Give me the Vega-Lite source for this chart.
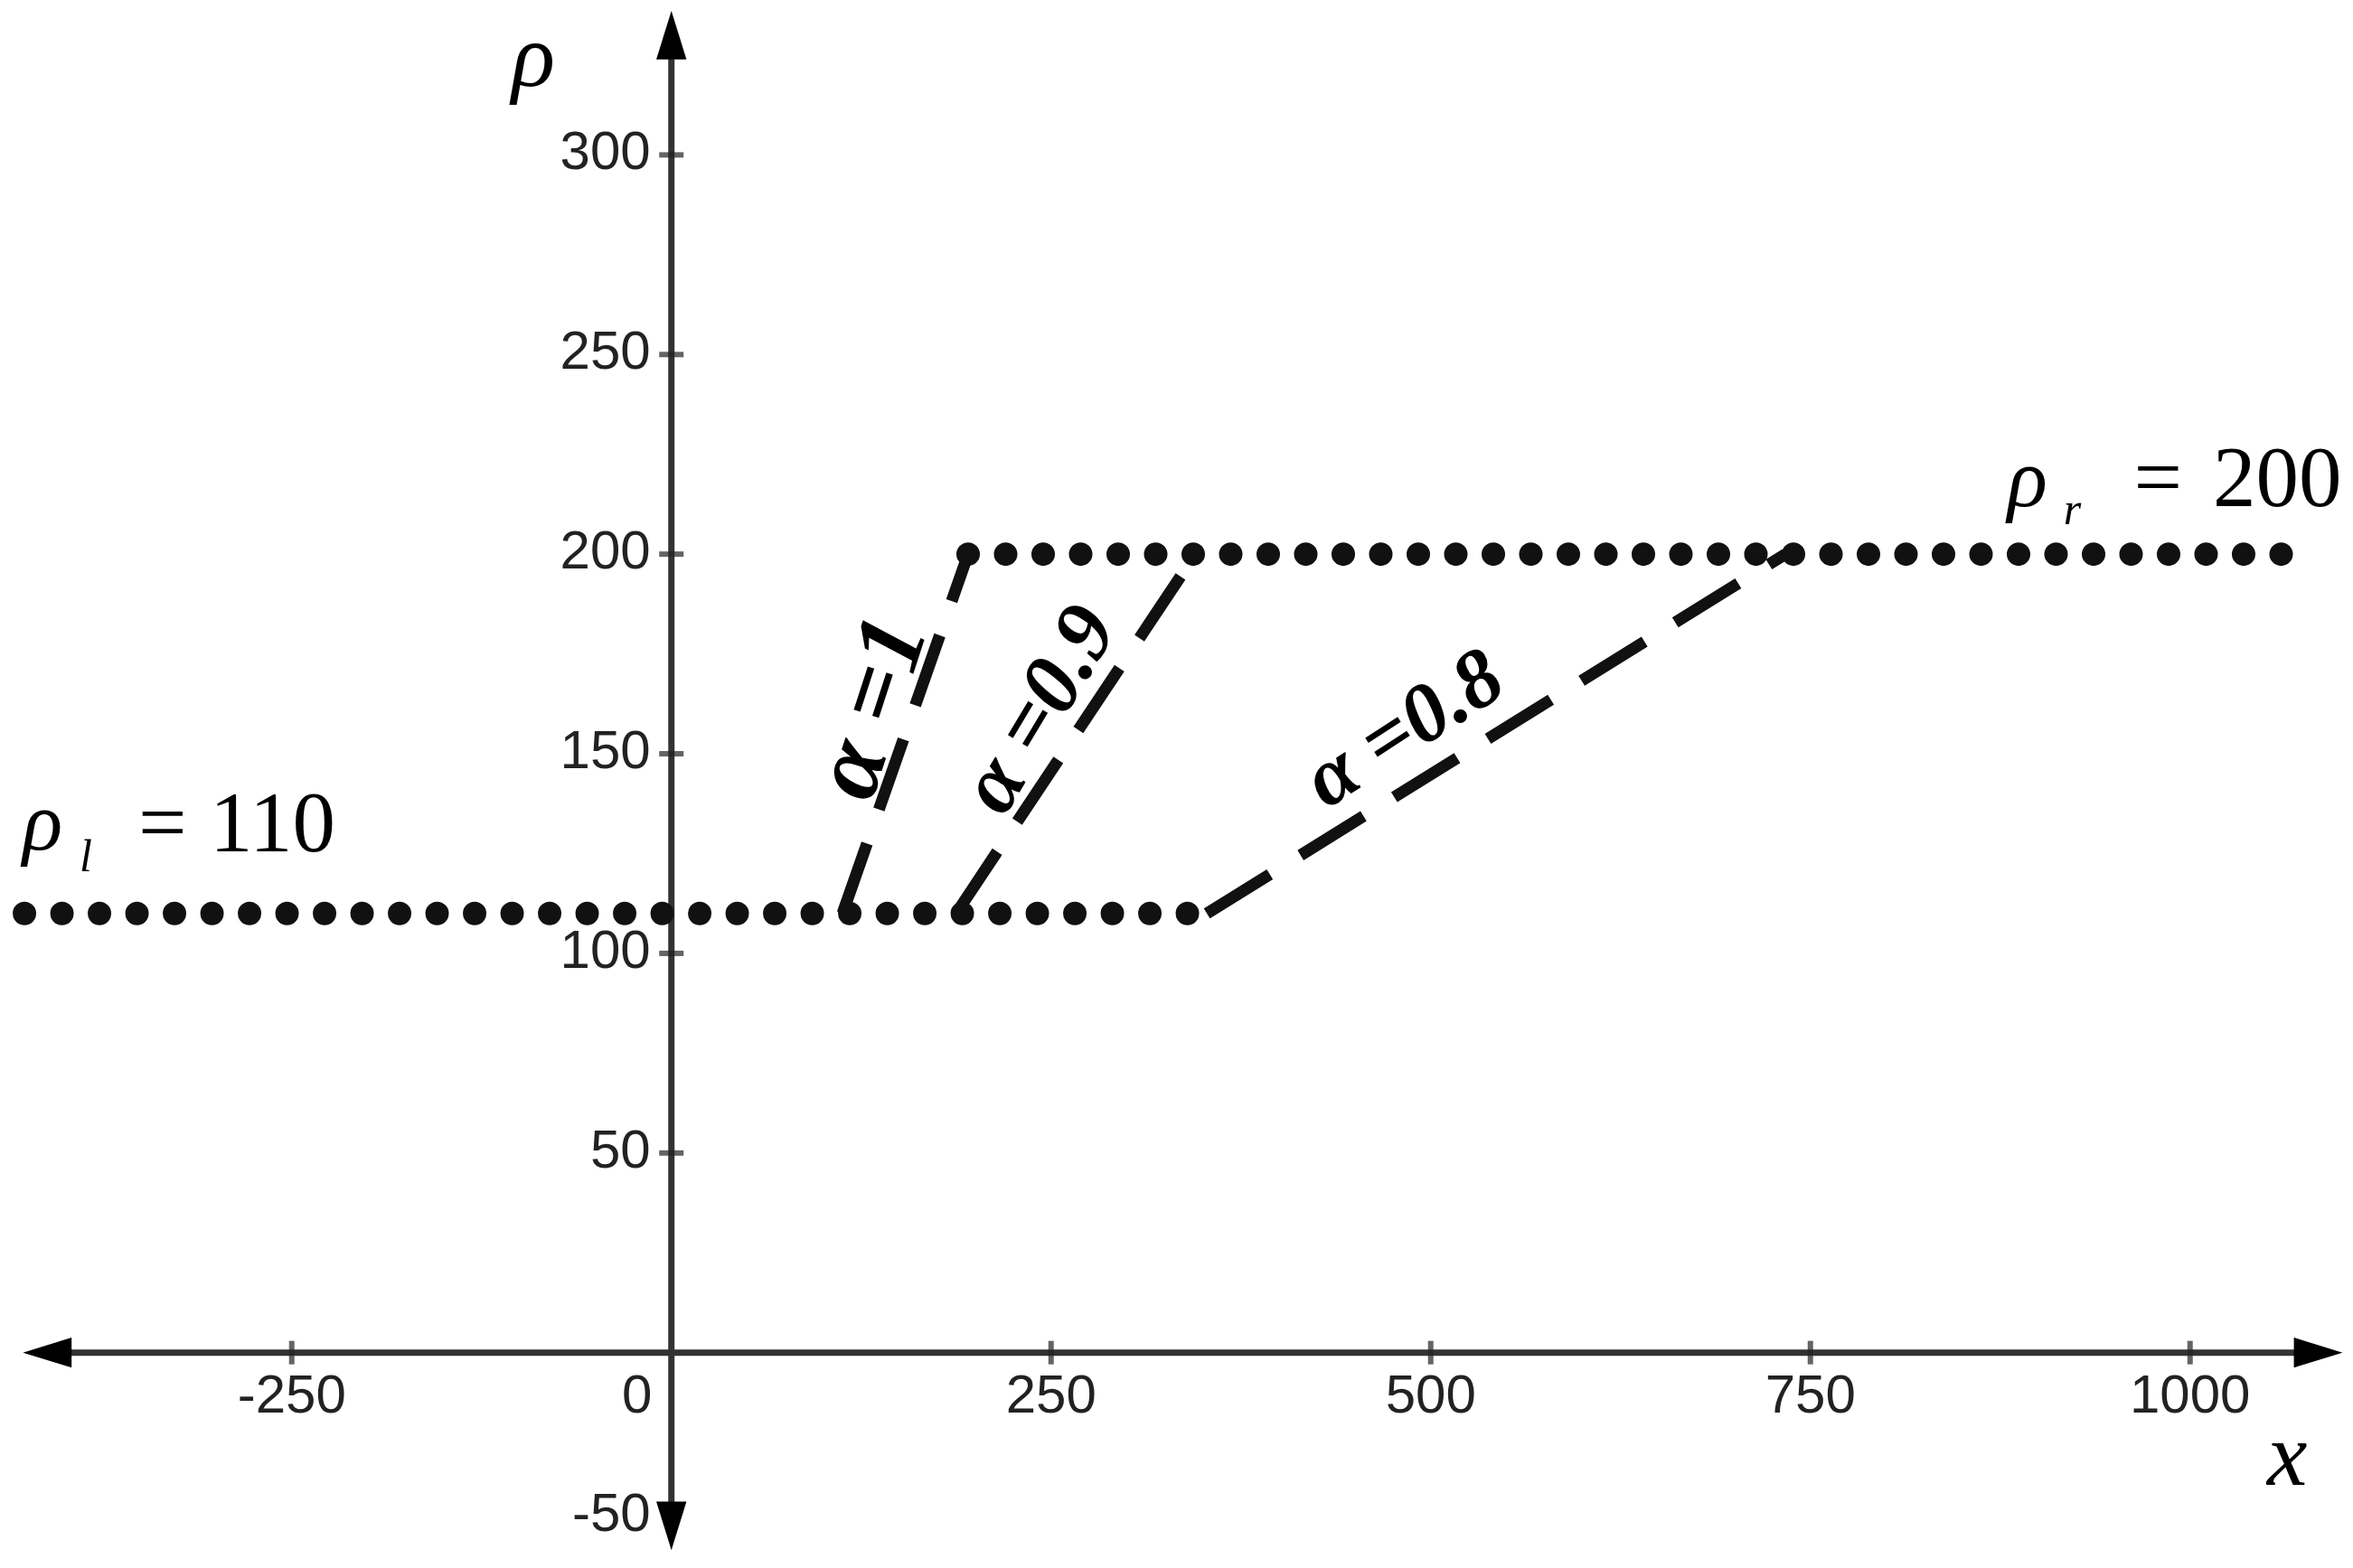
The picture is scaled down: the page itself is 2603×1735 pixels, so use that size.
{
  "$schema": "https://vega.github.io/schema/vega-lite/v6.json",
  "width": 2603,
  "height": 1735,
  "autosize": {"type": "none"},
  "padding": 0,
  "background": "white",
  "config": {"view": {"stroke": null}},
  "datasets": {
    "axislines": [
      {"x": -411, "y": 0, "x2": 1084, "y2": 0},
      {"x": 0, "y": -43, "x2": 0, "y2": 330}
    ],
    "xticks": [
      {"x": -250, "y": 0, "label": "-250"},
      {"x": 250, "y": 0, "label": "250"},
      {"x": 500, "y": 0, "label": "500"},
      {"x": 750, "y": 0, "label": "750"},
      {"x": 1000, "y": 0, "label": "1000"}
    ],
    "origin": [{"x": 0, "y": 0, "label": "0"}],
    "yticks": [
      {"x": 0, "y": 50, "label": "50"},
      {"x": 0, "y": 100, "label": "100"},
      {"x": 0, "y": 150, "label": "150"},
      {"x": 0, "y": 200, "label": "200"},
      {"x": 0, "y": 250, "label": "250"},
      {"x": 0, "y": 300, "label": "300"}
    ],
    "yneg": [{"x": 0, "y": -50, "label": "-50"}],
    "arrows": [
      {"x": 0, "y": 330, "dir": "up"},
      {"x": 0, "y": -43.4, "dir": "down"},
      {"x": 1084.4, "y": 0, "dir": "right"},
      {"x": -411, "y": 0, "dir": "left"}
    ],
    "dotted": [
      {"x": -426, "y": 110, "s": "left"},
      {"x": 352, "y": 110, "s": "left"},
      {"x": 195.4, "y": 200, "s": "right"},
      {"x": 1068, "y": 200, "s": "right"}
    ],
    "dashed": [
      {"x": 112.7, "y": 110, "s": "a1"},
      {"x": 195.4, "y": 200, "s": "a1"},
      {"x": 187.5, "y": 110, "s": "a09"},
      {"x": 345, "y": 200, "s": "a09"},
      {"x": 352.6, "y": 110, "s": "a08"},
      {"x": 733.5, "y": 200, "s": "a08"}
    ],
    "alphas": [
      {"x": 132, "y": 161.5, "label": "α =1", "s": "a1"},
      {"x": 242.6, "y": 161.1, "label": "α =0.9", "s": "a09"},
      {"x": 482.5, "y": 156.2, "label": "α =0.8", "s": "a08"}
    ],
    "rho": [
      {"x": -427.2, "y": 126, "label": "ρ"},
      {"x": 879.8, "y": 212, "label": "ρ"}
    ],
    "subs": [
      {"x": -389.7, "y": 120.6, "label": "l"},
      {"x": 916.7, "y": 207.5, "label": "r"}
    ],
    "eqs": [
      {"x": -351, "y": 125.6, "label": "="},
      {"x": -304, "y": 125.6, "label": "110"},
      {"x": 963, "y": 212, "label": "="},
      {"x": 1015, "y": 212, "label": "200"}
    ],
    "titles": [
      {"x": -90.9, "y": 317.3, "label": "ρ"},
      {"x": 1064, "y": -33.1, "label": "x"}
    ]
  },
  "encoding": {
    "x": {"field": "x", "type": "quantitative", "scale": {"domain": [-442.1, 1107.3], "nice": false, "zero": false}, "axis": null},
    "y": {"field": "y", "type": "quantitative", "scale": {"domain": [-53.95, 338.8], "nice": false, "zero": false}, "axis": null}
  },
  "layer": [
    {
      "data": {"name": "axislines"},
      "mark": {"type": "rule", "color": "#333333", "strokeWidth": 7},
      "encoding": {"x2": {"field": "x2"}, "y2": {"field": "y2"}}
    },
    {
      "data": {"name": "xticks"},
      "mark": {"type": "tick", "orient": "vertical", "size": 26, "thickness": 6, "color": "#222222"}
    },
    {
      "data": {"name": "yticks"},
      "mark": {"type": "tick", "orient": "horizontal", "size": 27, "thickness": 6, "color": "#222222"}
    },
    {
      "data": {"name": "arrows"},
      "mark": {"type": "point", "filled": true, "color": "#000000", "opacity": 1, "size": 2900},
      "encoding": {
        "shape": {
          "field": "dir", "type": "nominal", "legend": null,
          "scale": {
            "domain": ["up", "down", "left", "right"],
            "range": ["M0,-1L0.62,1L-0.62,1Z", "M0,1L0.62,-1L-0.62,-1Z", "M-1,0L1,0.62L1,-0.62Z", "M1,0L-1,0.62L-1,-0.62Z"]
          }
        }
      }
    },
    {
      "data": {"name": "xticks"},
      "mark": {"type": "text", "font": "Liberation Sans", "fontSize": 60, "color": "#222222", "align": "center", "baseline": "alphabetic", "dy": 66},
      "encoding": {"text": {"field": "label"}}
    },
    {
      "data": {"name": "origin"},
      "mark": {"type": "text", "font": "Liberation Sans", "fontSize": 60, "color": "#222222", "align": "center", "baseline": "alphabetic", "dx": -38, "dy": 66},
      "encoding": {"text": {"field": "label"}}
    },
    {
      "data": {"name": "yticks"},
      "mark": {"type": "text", "font": "Liberation Sans", "fontSize": 60, "color": "#222222", "align": "right", "baseline": "alphabetic", "dx": -23, "dy": 16},
      "encoding": {"text": {"field": "label"}}
    },
    {
      "data": {"name": "yneg"},
      "mark": {"type": "text", "font": "Liberation Sans", "fontSize": 60, "color": "#222222", "align": "right", "baseline": "alphabetic", "dx": -23, "dy": -24},
      "encoding": {"text": {"field": "label"}}
    },
    {
      "data": {"name": "dotted"},
      "mark": {"type": "line", "color": "#111111", "strokeWidth": 26, "strokeCap": "round", "strokeDash": [0, 41.5]},
      "encoding": {"detail": {"field": "s"}}
    },
    {
      "data": {"name": "dashed"},
      "mark": {"type": "line", "color": "#111111", "strokeWidth": 13, "strokeCap": "butt", "strokeDash": [82, 40]},
      "encoding": {"detail": {"field": "s"}}
    },
    {
      "data": {"name": "alphas"},
      "transform": [{"filter": "datum.s === 'a1'"}],
      "mark": {"type": "text", "font": "Liberation Serif", "fontStyle": "italic", "fontWeight": "bold", "fontSize": 108, "color": "#000000", "align": "center", "baseline": "middle", "angle": -72},
      "encoding": {"text": {"field": "label"}}
    },
    {
      "data": {"name": "alphas"},
      "transform": [{"filter": "datum.s === 'a09'"}],
      "mark": {"type": "text", "font": "Liberation Serif", "fontStyle": "italic", "fontWeight": "bold", "fontSize": 94, "color": "#000000", "align": "center", "baseline": "middle", "angle": -59},
      "encoding": {"text": {"field": "label"}}
    },
    {
      "data": {"name": "alphas"},
      "transform": [{"filter": "datum.s === 'a08'"}],
      "mark": {"type": "text", "font": "Liberation Serif", "fontStyle": "italic", "fontWeight": "bold", "fontSize": 92, "color": "#000000", "align": "center", "baseline": "middle", "angle": -33},
      "encoding": {"text": {"field": "label"}}
    },
    {
      "data": {"name": "rho"},
      "mark": {"type": "text", "font": "Liberation Serif", "fontStyle": "italic", "fontSize": 92, "color": "#000000", "align": "left", "baseline": "alphabetic"},
      "encoding": {"text": {"field": "label"}}
    },
    {
      "data": {"name": "subs"},
      "mark": {"type": "text", "font": "Liberation Serif", "fontStyle": "italic", "fontSize": 50, "color": "#000000", "align": "left", "baseline": "alphabetic"},
      "encoding": {"text": {"field": "label"}}
    },
    {
      "data": {"name": "eqs"},
      "mark": {"type": "text", "font": "Liberation Serif", "fontSize": 95, "color": "#000000", "align": "left", "baseline": "alphabetic"},
      "encoding": {"text": {"field": "label"}}
    },
    {
      "data": {"name": "titles"},
      "mark": {"type": "text", "font": "Liberation Serif", "fontStyle": "italic", "fontSize": 100, "color": "#000000", "align": "center", "baseline": "alphabetic"},
      "encoding": {"text": {"field": "label"}}
    }
  ]
}
